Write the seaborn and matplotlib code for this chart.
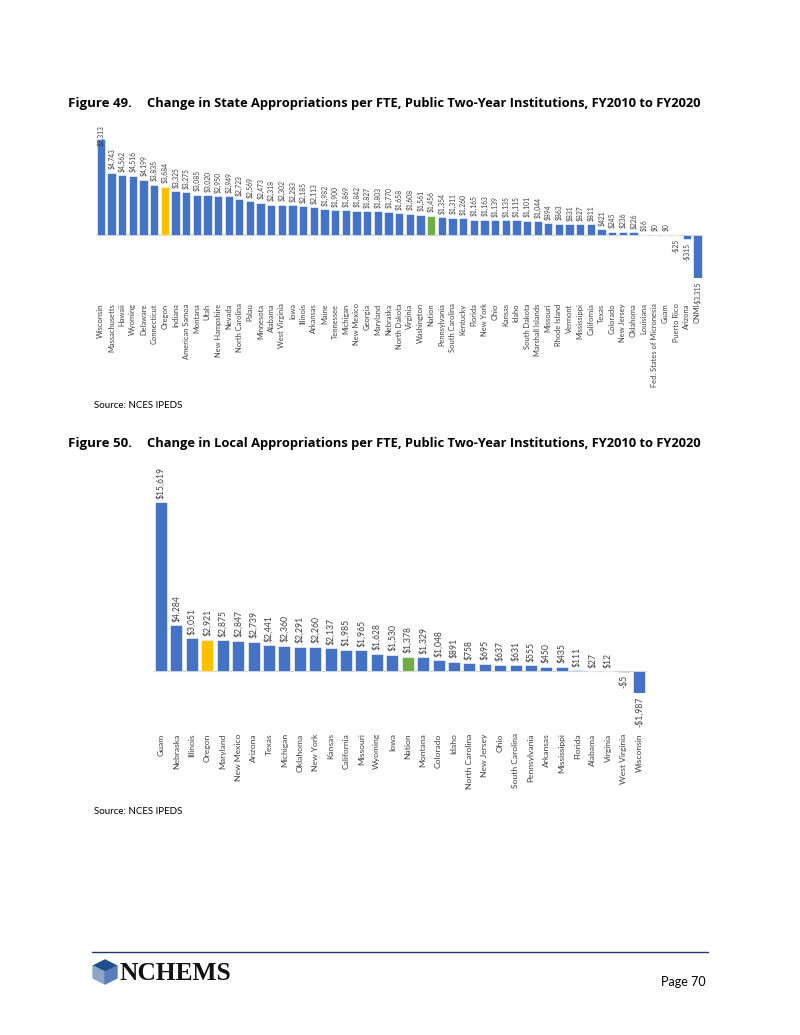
import numpy as np
import pandas as pd
import seaborn as sns
import matplotlib.pyplot as plt
from matplotlib.patches import Polygon

# Figure 49 data: change in state appropriations per FTE
state_names = ['Wisconsin', 'Massachusetts', 'Hawaii', 'Wyoming', 'Delaware', 'Connecticut', 'Oregon',
               'Indiana', 'American Samoa', 'Montana', 'Utah', 'New Hampshire', 'Nevada', 'North Carolina',
               'Palau', 'Minnesota', 'Alabama', 'West Virginia', 'Iowa', 'Illinois', 'Arkansas', 'Maine',
               'Tennessee', 'Michigan', 'New Mexico', 'Georgia', 'Maryland', 'Nebraska', 'North Dakota',
               'Virginia', 'Washington', 'Nation', 'Pennsylvania', 'South Carolina', 'Kentucky', 'Florida',
               'New York', 'Ohio', 'Kansas', 'Idaho', 'South Dakota', 'Marshall Islands', 'Missouri',
               'Rhode Island', 'Vermont', 'Mississippi', 'California', 'Texas', 'Colorado', 'New Jersey',
               'Oklahoma', 'Louisiana', 'Fed. States of Micronesia', 'Guam', 'Puerto Rico', 'Arizona', 'CNMI']
state_values = [7313, 4743, 4562, 4516, 4199, 3835, 3684, 3325, 3275, 3085, 3020, 2950, 2949, 2723,
                2569, 2473, 2318, 2302, 2283, 2185, 2113, 1982, 1900, 1869, 1842, 1827, 1803, 1770, 1658,
                1608, 1561, 1456, 1354, 1311, 1260, 1165, 1163, 1139, 1135, 1115, 1101, 1044, 894,
                863, 831, 827, 811, 421, 245, 236, 226, 16, 0, 0, -25, -315, -3315]

# Figure 50 data: change in local appropriations per FTE
local_names = ['Guam', 'Nebraska', 'Illinois', 'Oregon', 'Maryland', 'New Mexico', 'Arizona', 'Texas',
               'Michigan', 'Oklahoma', 'New York', 'Kansas', 'California', 'Missouri', 'Wyoming', 'Iowa',
               'Nation', 'Montana', 'Colorado', 'Idaho', 'North Carolina', 'New Jersey', 'Ohio',
               'South Carolina', 'Pennsylvania', 'Arkansas', 'Mississippi', 'Florida', 'Alabama',
               'Virginia', 'West Virginia', 'Wisconsin']
local_values = [15619, 4284, 3051, 2921, 2875, 2847, 2739, 2441, 2360, 2291, 2260, 2137, 1985, 1965,
                1628, 1530, 1378, 1329, 1048, 891, 758, 695, 637, 631, 555, 450, 435, 111, 27, 12, -5, -1987]

BLUE = '#4472C4'
YELLOW = '#FFC000'
GREEN = '#70AD47'
highlight = {'Oregon': YELLOW, 'Nation': GREEN}

W, H = 800, 1035


def px(x, y):
    return x / W, 1 - y / H


def money(v):
    return f"-${abs(v):,}" if v < 0 else f"${v:,}"


def bar_chart(ax, names, values, ylim, val_size, tick_size, tick_pad, room=None):
    df = pd.DataFrame({'name': names, 'value': values})
    pal = {n: highlight.get(n, BLUE) for n in names}
    sns.barplot(data=df, x='name', y='value', hue='name', palette=pal, legend=False,
                width=0.78, edgecolor='white', linewidth=0.4, ax=ax, saturation=1)
    ax.set_ylim(*ylim)
    ax.set_xlim(-0.5, len(names) - 0.5)
    ax.axhline(0, color='#D0D0D0', lw=0.8, zorder=0)
    lbl = dict(textcoords='offset points', rotation=90, ha='center', fontsize=val_size,
               color='#404040', family='Lato')
    for i, v in enumerate(values):
        if room is not None and v + room > ylim[1]:
            # label would run past the plot top, so it sits inside the bar
            ax.annotate(money(v), (i, ylim[1]), xytext=(0, -2), va='top', **lbl)
        elif v >= 0:
            ax.annotate(money(v), (i, v), xytext=(0, 2.5), va='bottom', **lbl)
        else:
            ax.annotate(money(v), (i, v), xytext=(0, -2.5), va='top', **lbl)
    ax.set_xticks(range(len(names)))
    ax.set_xticklabels(names, rotation=90, fontsize=tick_size, color='#404040', family='Lato')
    ax.tick_params(axis='x', length=0, pad=tick_pad)
    ax.set_yticks([])
    ax.set_xlabel('')
    ax.set_ylabel('')
    for s in ax.spines.values():
        s.set_visible(False)
    ax.patch.set_alpha(0)


sns.set_theme(style='white')
fig = plt.figure(figsize=(8, 10.35), dpi=100)

# Figure 49 axes
l, b = px(95.5, 278.4)
_, t = px(0, 122.3)
ax1 = fig.add_axes([l, b, (702.8 - 95.5) / W, t - b])
bar_chart(ax1, state_names, state_values, (-3315, 8600), 4.9, 5.4, 18, room=1800)

# Figure 50 axes
l, b = px(153.3, 693)
_, t = px(0, 460)
ax2 = fig.add_axes([l, b, (646.7 - 153.3) / W, t - b])
bar_chart(ax2, local_names, local_values, (-1987, 19500), 6.2, 6.1, 29)

renderer = fig.canvas.get_renderer()


def fit_text(x0, x1, y, s, size, **kw):
    # scale the font so the text spans x0..x1 pixels like the page
    txt = fig.text(*px(x0, y), s, fontsize=size, **kw)
    w = txt.get_window_extent(renderer).width
    txt.set_fontsize(size * (x1 - x0) / w)
    return txt


title_kw = dict(fontweight='bold', family='Open Sans', color='black', va='center')
fit_text(68, 131, 104, 'Figure 49.', 8.5, **title_kw)
fit_text(147, 697, 104, 'Change in State Appropriations per FTE, Public Two-Year Institutions, FY2010 to FY2020',
         8.5, **title_kw)
fit_text(68, 131, 444, 'Figure 50.', 8.5, **title_kw)
fit_text(147, 697, 444, 'Change in Local Appropriations per FTE, Public Two-Year Institutions, FY2010 to FY2020',
         8.5, **title_kw)

src_kw = dict(fontsize=7.0, family='Lato', color='black', va='center')
fig.text(*px(94, 405), 'Source: NCES IPEDS', **src_kw)
fig.text(*px(94, 812), 'Source: NCES IPEDS', **src_kw)

# footer rule, logo and page number
fig.add_artist(plt.Line2D([92 / W, 708 / W], [1 - 952 / H] * 2, color='#1F3864', lw=1.0))
cx, cy, r = 105, 972, 12
top, ur, lr = px(cx, cy - r), px(cx + r, cy - r / 2), px(cx + r, cy + r / 2)
bot, ll, ul, ctr = px(cx, cy + r), px(cx - r, cy + r / 2), px(cx - r, cy - r / 2), px(cx, cy)
fig.add_artist(Polygon([top, ur, ctr, ul], closed=True, color='#1F4E8C', transform=fig.transFigure))
fig.add_artist(Polygon([ul, ctr, bot, ll], closed=True, color='#8EA5C8', transform=fig.transFigure))
fig.add_artist(Polygon([ctr, ur, lr, bot], closed=True, color='#5A7DBA', transform=fig.transFigure))
fit_text(120, 232, 973, 'NCHEMS', 17, fontweight='bold', family='Liberation Serif', color='#111111',
         va='center')
fig.text(*px(706, 982), 'Page 70', fontsize=9.0, family='Lato', color='black', va='center', ha='right')

fig.savefig('out.png', dpi=100, facecolor='white')
